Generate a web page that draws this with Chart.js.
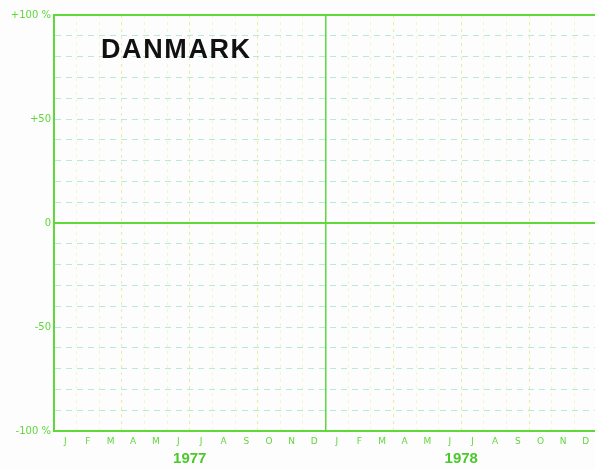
<!DOCTYPE html>
<html>
<head>
<meta charset="utf-8">
<script src="https://cdn.jsdelivr.net/npm/chart.js@4"></script>
<style>
    html, body { margin: 0; padding: 0; background: #fdfdfd; overflow: hidden; }
    #wrap { position: absolute; left: 0; top: 0; width: 600px; height: 469px; }
    #title {
        position: absolute; left: 101px; top: 34px;
        font: bold 27px "Liberation Sans", Arial, sans-serif;
        letter-spacing: 1.6px; color: #111;
    }
</style>
</head>
<body>
<div id="wrap">
    <canvas id="chart" width="600" height="469"></canvas>
    <div id="title">DANMARK</div>
</div>
<script>
// Months of the two years on the x axis
const months = ['J', 'F', 'M', 'A', 'M', 'J', 'J', 'A', 'S', 'O', 'N', 'D',
                'J', 'F', 'M', 'A', 'M', 'J', 'J', 'A', 'S', 'O', 'N', 'D'];
const years = ['1977', '1978'];

// Labelled values on the y axis (percent change)
const yTickValues = [100, 50, 0, -50, -100];
const yTickLabels = ['+100 %', '+50', '0', '-50', '-100 %'];

// The sheet is an empty grid: no values were plotted for Denmark
const danmarkValues = [];

const GREEN = '#5fd83a';
const FAINT_H = 'rgba(120, 220, 190, 0.55)';
const FAINT_V = 'rgba(225, 230, 110, 0.7)';
const FAINTER_V = 'rgba(230, 235, 150, 0.45)';

document.addEventListener('DOMContentLoaded', function() {
    const ctx = document.getElementById('chart').getContext('2d');
    new Chart(ctx, {
        type: 'line',
        data: {
            labels: months,
            datasets: [{
                label: 'Danmark',
                data: danmarkValues,
                borderColor: '#111',
                pointRadius: 0
            }]
        },
        options: {
            responsive: false,
            animation: false,
            layout: { padding: { top: 15, right: 3, left: 0, bottom: 0 } },
            plugins: {
                legend: { display: false },
                tooltip: { enabled: false }
            },
            scales: {
                x: {
                    type: 'category',
                    position: 'bottom',
                    offset: true,
                    grid: {
                        offset: true,
                        drawTicks: false,
                        color: function(c) {
                            if (c.index === 12) return GREEN;
                            return c.index % 3 === 0 ? FAINT_V : FAINTER_V;
                        },
                        lineWidth: function(c) {
                            return c.index === 12 ? 1.5 : 1;
                        }
                    },
                    border: {
                        color: GREEN,
                        width: 2,
                        dash: function(c) {
                            return c.index === 12 ? [] : [3, 4];
                        }
                    },
                    ticks: {
                        autoSkip: false,
                        maxRotation: 0,
                        padding: 5,
                        color: GREEN,
                        font: { family: 'DejaVu Sans', size: 9 }
                    },
                    afterFit: function(scale) { scale.height = 18; }
                },
                xYear: {
                    type: 'category',
                    position: 'bottom',
                    labels: years,
                    offset: true,
                    grid: { display: false, drawTicks: false },
                    border: { display: false },
                    ticks: {
                        padding: 1,
                        color: '#4cc82a',
                        font: { family: 'Liberation Sans', size: 15, weight: 'bold' }
                    },
                    afterFit: function(scale) { scale.height = 20; }
                },
                y: {
                    min: -100,
                    max: 100,
                    grid: {
                        drawTicks: false,
                        color: function(c) {
                            const v = c.tick.value;
                            return (v === 0 || v === 100 || v === -100) ? GREEN : FAINT_H;
                        },
                        lineWidth: function(c) {
                            const v = c.tick.value;
                            return (v === 0 || v === 100) ? 2 : 1;
                        }
                    },
                    border: {
                        color: GREEN,
                        width: 2,
                        dash: function(c) {
                            const v = c.tick && c.tick.value;
                            return (v === 0 || v === 100 || v === -100) ? [] : [6, 5];
                        }
                    },
                    ticks: {
                        stepSize: 10,
                        autoSkip: false,
                        padding: 3,
                        color: GREEN,
                        font: { family: 'DejaVu Sans', size: 10 },
                        callback: function(value) {
                            const i = yTickValues.indexOf(value);
                            return i >= 0 ? yTickLabels[i] : '';
                        }
                    },
                    afterFit: function(scale) { scale.width = 54; }
                }
            }
        }
    });
});
</script>
</body>
</html>
